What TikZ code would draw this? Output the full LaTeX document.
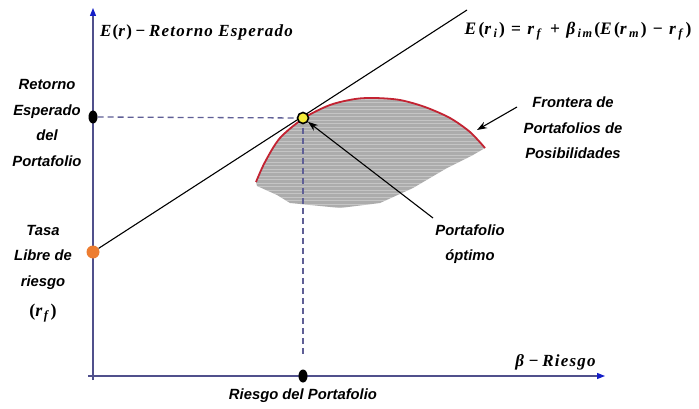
\documentclass[tikz,border=0pt]{standalone}
\usepackage{fontspec}
\setmainfont{Liberation Sans}
\newfontfamily\mathserif[LetterSpace=7]{Liberation Serif}
\newfontfamily\eqserif[LetterSpace=13]{Liberation Serif}
\newcommand{\vi}[1]{\textit{#1}}
\newcommand{\sbi}[1]{\textsubscript{\textit{#1}}}
\newcommand{\op}[1]{\hspace{0.22em}#1\hspace{0.22em}}
\newcommand{\opw}[1]{\hspace{0.36em}#1\hspace{0.36em}}
\usetikzlibrary{arrows.meta,shapes.geometric}
\definecolor{axisc}{RGB}{80,80,140}
\definecolor{axisarrow}{RGB}{20,30,200}
\definecolor{dashc}{RGB}{95,95,150}
\definecolor{frontred}{RGB}{195,35,50}
\definecolor{rforange}{RGB}{237,125,49}
\definecolor{optyellow}{RGB}{245,235,60}
\definecolor{regiongray}{RGB}{172,172,172}
\begin{document}
\begin{tikzpicture}[x=1pt,y=-1pt,
  lbl/.style={font=\fontsize{14.8}{25.5}\selectfont\bfseries\itshape, align=center, inner sep=0pt},
  mathlbl/.style={font=\fontsize{17}{20}\selectfont\mathserif\bfseries, inner sep=0pt},
  axisline/.style={draw=axisc, line width=1.3pt, -{Triangle[length=8pt,width=6pt,color=axisarrow]}},
  dashline/.style={draw=dashc, line width=1.3pt, dash pattern=on 6pt off 4pt},
  blackdot/.style={ellipse, fill=black, minimum width=9pt, minimum height=13pt, inner sep=0pt},
  pointer/.style={draw=black, line width=1.1pt, -{Stealth[length=10pt,width=7pt]}},
]
\useasboundingbox (0,0) rectangle (699,409);
\fill[white] (0,0) rectangle (699,409);

% feasible region
\path[fill=regiongray] plot[smooth] coordinates {(256,182) (265,162) (280,138) (304,118) (330,105) (355,99) (375,98) (400,100) (425,107) (450,118) (470,132) (485,148)}
  -- (473,155) -- (447,168) -- (413,188) -- (380,203) -- (340,208) -- (290,203) -- (277,195) -- (257,186) -- cycle;
\begin{scope}
\clip plot[smooth] coordinates {(256,182) (265,162) (280,138) (304,118) (330,105) (355,99) (375,98) (400,100) (425,107) (450,118) (470,132) (485,148)}
  -- (473,155) -- (447,168) -- (413,188) -- (380,203) -- (340,208) -- (290,203) -- (277,195) -- (257,186) -- cycle;
\foreach \yy in {99,102.5,...,210} \draw[white, opacity=0.3, line width=0.9pt] (250,\yy) -- (490,\yy);
\end{scope}
\draw[frontred, line width=1.8pt] plot[smooth] coordinates {(256,182) (265,162) (280,138) (304,118) (330,105) (355,99) (375,98) (400,100) (425,107) (450,118) (470,132) (485,148)};

% axes
\coordinate (yb) at (93,380);
\coordinate (yt) at (93,8);
\coordinate (xl) at (88,376);
\coordinate (xr) at (605,376);
\draw[axisline] (yb) -- (yt);
\draw[axisline] (xl) -- (xr);

% points
\node[blackdot] (pr) at (93,117) {};
\node[blackdot] (pk) at (303,376) {};
\node[circle, fill=rforange, minimum size=13pt, inner sep=0pt] (rf) at (93,252) {};
\coordinate (vend) at (303,356);
\coordinate (tend) at (467,10);
\coordinate (optc) at (303,118);

% dashed guides
\draw[dashline] (pr) -- (optc);
\draw[dashline] (optc) -- (vend);

% capital market line
\draw[black, line width=1.1pt] (rf) -- (tend);

\node[circle, fill=optyellow, draw=black, line width=1.6pt, minimum size=11pt, inner sep=0pt] (opt) at (optc) {};

% labels
\node[mathlbl, anchor=west] (ylab) at (100,32) {\vi{E}(\vi{r})\op{−}\vi{Retorno Esperado}};
\node[mathlbl, font=\fontsize{17.5}{20}\selectfont\eqserif\bfseries] (eq) at (578,31) {\vi{E}(\vi{r}\sbi{i})\opw{=}\vi{r}\sbi{f}\opw{+}\vi{β}\sbi{im}(\vi{E}(\vi{r}\sbi{m})\opw{−}\vi{r}\sbi{f})};
\node[mathlbl] (xlab) at (556,362) {\vi{β}\op{−}\vi{Riesgo}};
\node[lbl] (tret) at (47,123) {Retorno\\Esperado\\del\\Portafolio};
\node[lbl] (tasa) at (43,257) {Tasa\\Libre de\\riesgo};
\node[mathlbl, font=\fontsize{18}{20}\selectfont\mathserif\bfseries] (rflab) at (43,313) {(\vi{r}\sbi{f})};
\node[lbl] (front) at (573,128) {Frontera de\\Portafolios de\\Posibilidades};
\node[lbl] (optl) at (470,244) {Portafolio\\óptimo};
\node[lbl] (riesgo) at (303,396) {Riesgo del Portafolio};

% pointers
\coordinate (pa) at (433,218);
\coordinate (fa) at (517,107);
\coordinate (fb) at (477,130);
\draw[pointer] (pa) -- (opt);
\draw[pointer] (fa) -- (fb);
\end{tikzpicture}
\end{document}
